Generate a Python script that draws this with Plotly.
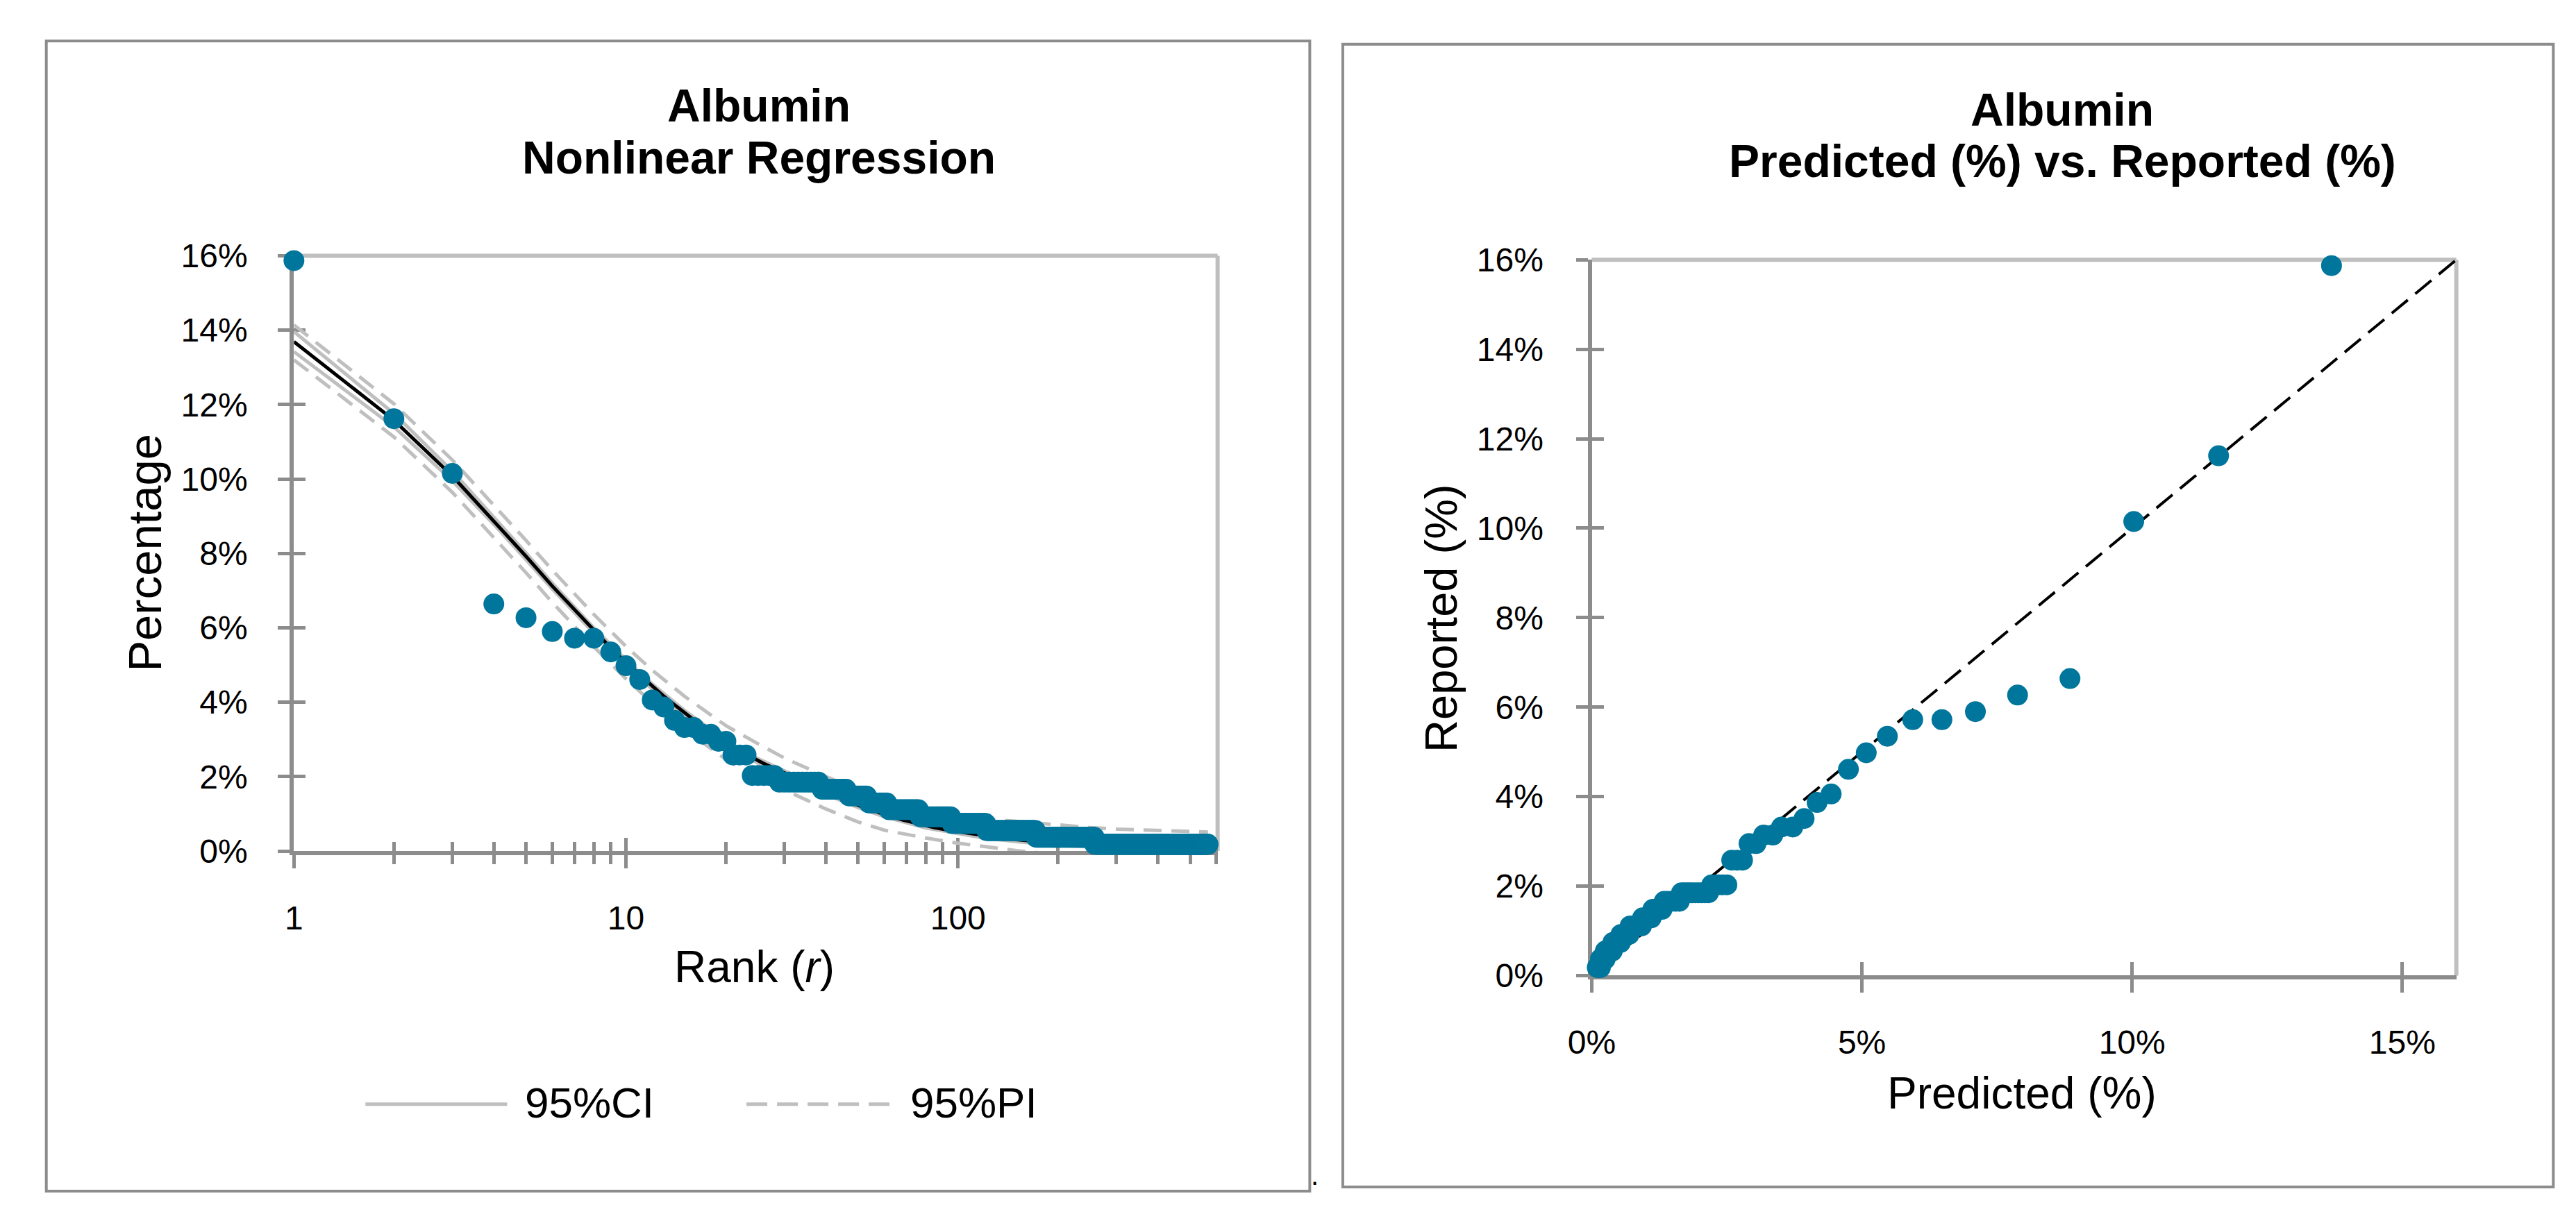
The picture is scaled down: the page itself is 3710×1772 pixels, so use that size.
import plotly.graph_objects as go

W, H = 3710, 1772

# ---------------- Left chart: reported percentage by rank ----------------
top_ranks = [1, 2, 3, 4, 5, 6, 7, 8, 9, 10, 11, 12, 13, 14, 15, 16, 17, 18, 19, 20, 21, 22, 23]
top_values = [15.87, 11.62, 10.15, 6.64, 6.27, 5.90, 5.72, 5.72, 5.35, 4.98, 4.61, 4.06,
              3.87, 3.51, 3.32, 3.32, 3.14, 3.14, 2.95, 2.95, 2.58, 2.58, 2.58]
# tied ranks (same reported value for a run of consecutive ranks)
plateau_start = [24, 29, 39, 47, 54, 62, 77, 96, 122, 172, 258]
plateau_end = [28, 38, 46, 53, 61, 76, 95, 121, 171, 257, 566]
plateau_value = [2.03, 1.85, 1.66, 1.48, 1.29, 1.11, 0.92, 0.74, 0.55, 0.37, 0.18]

# fitted nonlinear regression curve
fit_rank = [1, 2, 3, 4, 5, 6, 7, 8, 9, 10, 11, 12, 13, 14, 15, 16, 17, 18, 19, 20, 22, 24, 26, 28,
            30, 33, 36, 38, 42, 46, 50, 55, 61, 68, 76, 85, 95, 108, 121, 140, 171, 200, 257, 300,
            400, 566]
fit_value = [13.69, 11.58, 10.08, 8.88, 7.92, 7.12, 6.48, 5.93, 5.46, 5.07, 4.73, 4.42, 4.16, 3.93,
             3.71, 3.51, 3.34, 3.18, 3.04, 2.91, 2.69, 2.50, 2.35, 2.22, 2.10, 1.92, 1.77, 1.67,
             1.50, 1.35, 1.23, 1.10, 0.96, 0.84, 0.73, 0.63, 0.55, 0.47, 0.40, 0.33, 0.26, 0.21,
             0.16, 0.14, 0.12, 0.10]

# confidence / prediction bands
band_rank = [1, 2, 3, 4, 5, 6, 8, 10, 12, 15, 20, 25, 30, 40, 50, 60, 80, 100, 120, 150, 200,
             250, 300, 400, 566]
ci_upper = [13.96, 11.76, 10.21, 8.98, 8.01, 7.20, 6.00, 5.14, 4.49, 3.78, 2.97, 2.48, 2.16, 1.64,
            1.29, 1.04, 0.74, 0.58, 0.47, 0.37, 0.27, 0.23, 0.20, 0.18, 0.16]
ci_lower = [13.42, 11.40, 9.95, 8.78, 7.83, 7.04, 5.86, 5.00, 4.35, 3.64, 2.85, 2.36, 2.04, 1.52,
            1.17, 0.92, 0.62, 0.46, 0.35, 0.25, 0.15, 0.11, 0.08, 0.06, 0.04]
pi_upper = [14.14, 12.02, 10.51, 9.30, 8.35, 7.55, 6.36, 5.50, 4.86, 4.16, 3.37, 2.88, 2.50, 2.00,
            1.66, 1.40, 1.10, 0.95, 0.87, 0.79, 0.69, 0.63, 0.59, 0.55, 0.51]
pi_lower = [13.20, 11.13, 9.64, 8.44, 7.48, 6.68, 5.49, 4.63, 3.98, 3.27, 2.46, 1.97, 1.65, 1.13,
            0.78, 0.56, 0.35, 0.21, 0.12, 0.01, -0.10, -0.16, -0.20, -0.24, -0.28]

x_major = [1, 10, 100]
x_major_text = ["1", "10", "100"]
x_minor = [2, 3, 4, 5, 6, 7, 8, 9, 20, 30, 40, 50, 60, 70, 80, 90, 200, 300, 400, 500, 600]
y_ticks = [0, 2, 4, 6, 8, 10, 12, 14, 16]
y_tick_text = ["0%", "2%", "4%", "6%", "8%", "10%", "12%", "14%", "16%"]

# ---------------- Right chart: predicted vs reported ----------------
pred_values = [13.69, 11.60, 10.03, 8.85, 7.88, 7.10, 6.48, 5.94, 5.47, 5.08, 4.75, 4.43, 4.17,
               3.93, 3.72, 3.51, 3.35, 3.18, 3.04, 2.91, 2.79, 2.69, 2.59,
               2.50, 2.42, 2.35, 2.28, 2.22,
               2.16, 2.10, 2.04, 1.98, 1.92, 1.86, 1.81, 1.76, 1.71, 1.66,
               1.62, 1.55, 1.48, 1.41, 1.34,
               1.30, 1.24, 1.18, 1.13,
               1.10, 1.04, 0.99, 0.94,
               0.92, 0.86, 0.81, 0.76, 0.71,
               0.69, 0.64, 0.59, 0.54,
               0.53, 0.48, 0.43, 0.39,
               0.38, 0.33, 0.29, 0.25,
               0.25, 0.22, 0.19, 0.16,
               0.16, 0.14, 0.12, 0.10]
reported_values = [15.87, 11.62, 10.15, 6.64, 6.27, 5.90, 5.72, 5.72, 5.35, 4.98, 4.61, 4.06, 3.87,
                   3.51, 3.32, 3.32, 3.14, 3.14, 2.95, 2.95, 2.58, 2.58, 2.58,
                   2.03, 2.03, 2.03, 2.03, 2.03,
                   1.85, 1.85, 1.85, 1.85, 1.85, 1.85, 1.85, 1.85, 1.85, 1.85,
                   1.66, 1.66, 1.66, 1.66, 1.66,
                   1.48, 1.48, 1.48, 1.48,
                   1.29, 1.29, 1.29, 1.29,
                   1.11, 1.11, 1.11, 1.11, 1.11,
                   0.92, 0.92, 0.92, 0.92,
                   0.74, 0.74, 0.74, 0.74,
                   0.55, 0.55, 0.55, 0.55,
                   0.37, 0.37, 0.37, 0.37,
                   0.18, 0.18, 0.18, 0.18]
diag_x = [0, 16]
diag_y = [0, 16]
x2_ticks = [0, 5, 10, 15]
x2_tick_text = ["0%", "5%", "10%", "15%"]

# ---------------- expand tied ranks ----------------
ranks = list(top_ranks)
values = list(top_values)
for s, e, v in zip(plateau_start, plateau_end, plateau_value):
    for r in range(s, e + 1):
        ranks.append(r)
        values.append(v)

# ---------------- styling ----------------
FONT = "Arial, Liberation Sans, sans-serif"
DOT = "#00769C"
GREY = "#BFBFBF"
AX = "#8C8C8C"


def px(x):
    return x / W


def py(y):
    return 1 - y / H


L_dom_x = [px(392), px(1735)]
L_dom_y = [py(1237), py(353)]
R_dom_x = [px(2279), px(3536)]
R_dom_y = [py(1422), py(359)]

fig = go.Figure()

# left chart lines
fig.add_trace(go.Scatter(x=band_rank, y=pi_upper, mode="lines", name="95%PI",
                         line=dict(color=GREY, width=5, dash="26px,14px"), showlegend=False,
                         xaxis="x", yaxis="y"))
fig.add_trace(go.Scatter(x=band_rank, y=pi_lower, mode="lines", name="95%PI",
                         line=dict(color=GREY, width=5, dash="26px,14px"), showlegend=False,
                         xaxis="x", yaxis="y"))
fig.add_trace(go.Scatter(x=band_rank, y=ci_upper, mode="lines", name="95%CI",
                         line=dict(color=GREY, width=5), showlegend=False, xaxis="x", yaxis="y"))
fig.add_trace(go.Scatter(x=band_rank, y=ci_lower, mode="lines", name="95%CI",
                         line=dict(color=GREY, width=5), showlegend=False, xaxis="x", yaxis="y"))
fig.add_trace(go.Scatter(x=fit_rank, y=fit_value, mode="lines", name="Fit",
                         line=dict(color="black", width=5), showlegend=False, xaxis="x", yaxis="y"))
fig.add_trace(go.Scatter(x=ranks, y=values, mode="markers", name="Reported",
                         marker=dict(color=DOT, size=30, line=dict(width=0)), cliponaxis=False,
                         showlegend=False, xaxis="x", yaxis="y"))

# right chart
fig.add_trace(go.Scatter(x=diag_x, y=diag_y, mode="lines", line=dict(color="black", width=4, dash="30px,14px"),
                         showlegend=False, xaxis="x2", yaxis="y2"))
fig.add_trace(go.Scatter(x=pred_values, y=reported_values, mode="markers",
                         marker=dict(color=DOT, size=30, line=dict(width=0)), cliponaxis=False,
                         showlegend=False, xaxis="x2", yaxis="y2"))

# empty traces so the overlay (inside-tick) axes are drawn
for xa, ya in [("x3", "y"), ("x", "y3"), ("x4", "y2"), ("x2", "y4")]:
    fig.add_trace(go.Scatter(x=[], y=[], xaxis=xa, yaxis=ya, showlegend=False, hoverinfo="skip"))

tickfont = dict(family=FONT, size=48, color="black")
common = dict(showgrid=False, zeroline=False, layer="below traces", tickcolor=AX, tickwidth=5)

fig.update_layout(
    width=W, height=H, margin=dict(l=0, r=0, t=0, b=0),
    paper_bgcolor="white", plot_bgcolor="white", showlegend=False,
    xaxis=dict(domain=L_dom_x, anchor="y", type="log", range=[0, 2.7818],
               tickmode="array", tickvals=x_major, ticktext=x_major_text, ticks="outside", ticklen=19,
               showline=True, linecolor=AX, linewidth=6, tickfont=tickfont, ticklabelstandoff=30,
               minor=dict(tickmode="array", tickvals=x_minor, ticks="outside", ticklen=13,
                          tickwidth=5, tickcolor=AX, showgrid=False), **common),
    xaxis3=dict(overlaying="x", anchor="y", side="bottom", type="log", range=[0, 2.7818],
                tickmode="array", tickvals=x_major, ticks="inside", ticklen=19, showticklabels=False,
                showline=False,
                minor=dict(tickmode="array", tickvals=x_minor, ticks="inside", ticklen=13,
                           tickwidth=5, tickcolor=AX, showgrid=False), **common),
    yaxis=dict(domain=L_dom_y, anchor="x", range=[0, 16], tickmode="array", tickvals=y_ticks,
               ticktext=y_tick_text, ticks="outside", ticklen=17, showline=True, linecolor=AX,
               linewidth=6, tickfont=tickfont, ticklabelstandoff=34, **common),
    yaxis3=dict(overlaying="y", anchor="x", side="left", range=[0, 16], tickmode="array",
                tickvals=y_ticks, ticks="inside", ticklen=17, showticklabels=False, showline=False,
                **common),
    xaxis2=dict(domain=R_dom_x, anchor="y2", range=[0, 16], tickmode="array", tickvals=x2_ticks,
                ticktext=x2_tick_text, ticks="outside", ticklen=19, showline=True, linecolor=AX,
                linewidth=6, tickfont=tickfont, ticklabelstandoff=30, **common),
    xaxis4=dict(overlaying="x2", anchor="y2", side="bottom", range=[0, 16], tickmode="array",
                tickvals=x2_ticks, ticks="inside", ticklen=19, showticklabels=False, showline=False,
                **common),
    yaxis2=dict(domain=R_dom_y, anchor="x2", range=[0, 16], tickmode="array", tickvals=y_ticks,
                ticktext=y_tick_text, ticks="outside", ticklen=17, showline=True, linecolor=AX,
                linewidth=6, tickfont=tickfont, ticklabelstandoff=37, **common),
    yaxis4=dict(overlaying="y2", anchor="x2", side="left", range=[0, 16], tickmode="array",
                tickvals=y_ticks, ticks="inside", ticklen=17, showticklabels=False, showline=False,
                **common),
)

shapes = []
# outer panel boxes
shapes.append(dict(type="rect", xref="paper", yref="paper", x0=px(32), x1=px(1869), y0=py(1742), y1=py(34),
                   line=dict(color=AX, width=4), fillcolor="rgba(0,0,0,0)", layer="below"))
shapes.append(dict(type="rect", xref="paper", yref="paper", x0=px(1917), x1=px(3677), y0=py(1736), y1=py(39),
                   line=dict(color=AX, width=4), fillcolor="rgba(0,0,0,0)", layer="below"))
# light plot-area borders (top & right)
for xd, yd in [("x domain", "y domain"), ("x2 domain", "y2 domain")]:
    shapes.append(dict(type="line", xref=xd, yref=yd, x0=0, x1=1, y0=1, y1=1,
                       line=dict(color=GREY, width=6), layer="below"))
    shapes.append(dict(type="line", xref=xd, yref=yd, x0=1, x1=1, y0=0, y1=1,
                       line=dict(color=GREY, width=6), layer="below"))
# manual legend samples
shapes.append(dict(type="line", xref="paper", yref="paper", x0=px(496), x1=px(702), y0=py(1613), y1=py(1613),
                   line=dict(color=GREY, width=5)))
shapes.append(dict(type="line", xref="paper", yref="paper", x0=px(1050), x1=px(1263), y0=py(1613), y1=py(1613),
                   line=dict(color=GREY, width=5, dash="30px,14px")))
fig.update_layout(shapes=shapes)


def ann(text, x, y, size, bold=False, angle=0, xanchor="center"):
    return dict(text=f"<b>{text}</b>" if bold else text, x=px(x), y=py(y), xref="paper", yref="paper",
                showarrow=False, xanchor=xanchor, yanchor="middle", textangle=angle,
                font=dict(family=FONT, size=size, color="black"))


annotations = [
    ann("Albumin", 1068, 130, 66, bold=True),
    ann("Nonlinear Regression", 1068, 207, 66, bold=True),
    ann("Albumin", 2963, 136, 66, bold=True),
    ann("Predicted (%) vs. Reported (%)", 2963, 212, 66, bold=True),
    ann("Percentage", 175, 794, 67, angle=-90),
    ann("Reported (%)", 2060, 891, 65, angle=-90),
    ann("Rank (<i>r</i>)", 1062, 1409, 64),
    ann("Predicted (%)", 2904, 1597, 64),
    ann("95%CI", 726, 1611, 62, xanchor="left"),
    ann("95%PI", 1286, 1611, 62, xanchor="left"),
    ann(".", 1876, 1718, 40),
]
fig.update_layout(annotations=annotations)

fig.write_html("out.html", config={"displayModeBar": False},
               post_script="document.body.style.margin='0';document.body.style.overflow='hidden';")
